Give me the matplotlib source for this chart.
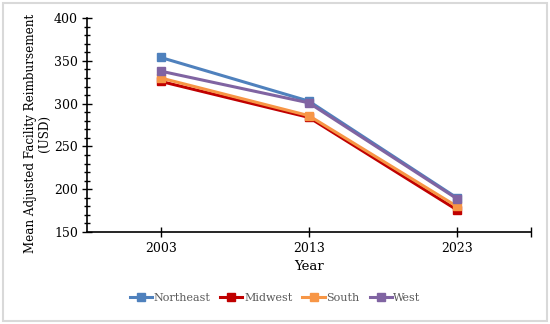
import matplotlib.pyplot as plt
from matplotlib.ticker import MultipleLocator
from matplotlib.patches import Rectangle

years = ["2003", "2013", "2023"]
northeast = [354, 303, 190]
midwest = [326, 284, 176]
south = [330, 286, 180]
west = [338, 301, 189]

series = [("Northeast", northeast, "#4F81BD"),
          ("Midwest", midwest, "#C00000"),
          ("South", south, "#F79646"),
          ("West", west, "#8064A2")]

plt.rcParams['font.family'] = 'DejaVu Serif'
fig = plt.figure(figsize=(5.5, 3.24), dpi=100)
ax = fig.add_axes([0.158, 0.284, 0.807, 0.66])

x = list(range(len(years)))
for name, vals, col in series:
    ax.plot(x, vals, color=col, lw=2.2, marker='s', ms=6, label=name)

ax.set_xlim(-0.5, 2.5)
ax.set_ylim(150, 400)
ax.set_xticks(x + [2.5])
ax.set_xticklabels(years + [""], fontsize=9)
ax.yaxis.set_major_locator(MultipleLocator(50))
ax.yaxis.set_minor_locator(MultipleLocator(10))
ax.tick_params(axis='y', which='major', direction='inout', length=7, width=1, labelsize=9, pad=3)
ax.tick_params(axis='y', which='minor', direction='inout', length=5, width=1)
ax.tick_params(axis='x', direction='inout', length=7, width=1, labelsize=9)
for s in ['top', 'right']:
    ax.spines[s].set_visible(False)
ax.spines['left'].set_linewidth(1.2)
ax.spines['bottom'].set_linewidth(1.2)

ax.set_xlabel("Year", fontsize=9.5, labelpad=4)
ax.set_ylabel("Mean Adjusted Facility Reimbursement\n(USD)", fontsize=8.6,
              linespacing=1.1)
ax.yaxis.set_label_coords(-0.08, 0.46)

ax.legend(loc='center', bbox_to_anchor=(0.424, -0.31), ncol=4, frameon=False,
          fontsize=8, handlelength=2.0, columnspacing=0.9, handletextpad=0.15,
          labelcolor='#595959')

fig.patches.append(Rectangle((0.005, 0.01), 0.99, 0.98, transform=fig.transFigure,
                             fill=False, edgecolor='#d9d9d9', lw=1.5))

fig.savefig("out.png", dpi=100)
